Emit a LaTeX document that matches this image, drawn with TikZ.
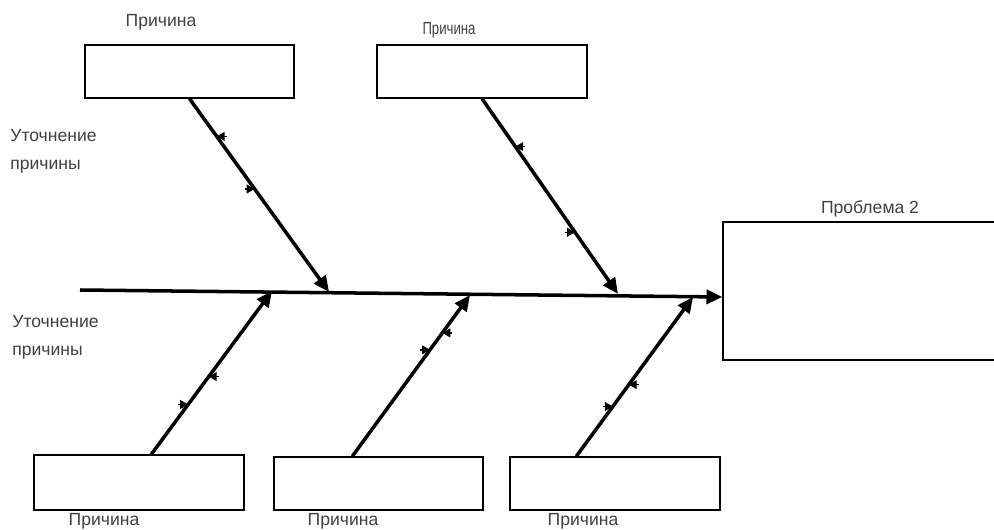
\documentclass[tikz,border=0pt]{standalone}
\usepackage{fontspec}
\setmainfont{Liberation Sans}
\usetikzlibrary{arrows.meta,calc}

\begin{document}
\begin{tikzpicture}
  [x=0.02cm,y=-0.02cm,
   box/.style={draw,line width=0.8pt,inner sep=0pt},
   lbl/.style={text=black!75,font=\fontsize{10}{16}\selectfont,inner sep=0pt},
   bone/.style={line width=2pt,-{Triangle[length=9pt,width=8pt]}},
   twig/.style={line width=0.8pt,-{Triangle[length=4.5pt,width=5pt]}}]
  \useasboundingbox (0,0) rectangle (994,530);

  % boxes
  \node[box,minimum width=4.18cm,minimum height=1.06cm] (c1) at (189.5,71.5) {};
  \node[box,minimum width=4.2cm,minimum height=1.06cm] (c2) at (482,71.5) {};
  \node[box,minimum width=4.2cm,minimum height=1.1cm] (c3) at (139,482.5) {};
  \node[box,minimum width=4.18cm,minimum height=1.06cm] (c4) at (378.5,483.5) {};
  \node[box,minimum width=4.2cm,minimum height=1.06cm] (c5) at (615,483.5) {};
  \node[box,minimum width=5.54cm,minimum height=2.76cm] (prob) at (861.5,291) {};

  % labels
  \node[lbl] (l1) at (161,22) {Причина};
  \node[lbl,xscale=.75] (l2) at (449,30) {Причина};
  \node[lbl] (l3) at (104,521) {Причина};
  \node[lbl] (l4) at (343,521) {Причина};
  \node[lbl] (l5) at (583,521) {Причина};
  \node[lbl] (lp) at (870,209) {Проблема 2};
  \node[lbl,anchor=west,align=left] (u1) at (10,151) {Уточнение\\причины};
  \node[lbl,anchor=west,align=left] (u2) at (12,337) {Уточнение\\причины};

  % spine
  \coordinate (tail) at (80,290);
  \coordinate (j1) at (329,292);
  \coordinate (j2) at (618,294);
  \coordinate (j3) at (272,291);
  \coordinate (j4) at (470,295);
  \coordinate (j5) at (693,297);
  \coordinate (s3) at ($(c3.north west)+(118,0)$);
  \coordinate (s4) at ($(c4.north west)+(79,0)$);
  \coordinate (s5) at ($(c5.north west)+(67,0)$);

  \draw[bone] (tail) -- ($(prob.west)+(0,6)$);

  % bones
  \draw[bone] (c1.south) -- (j1);
  \draw[bone] (c2.south) -- (j2);
  \draw[bone] (s3) -- (j3);
  \draw[bone] (s4) -- (j4);
  \draw[bone] (s5) -- (j5);

  % twigs
  \path (c1.south) -- (j1) coordinate[pos=.195] (t1) coordinate[pos=.467] (t2);
  \path (c2.south) -- (j2) coordinate[pos=.245] (t3) coordinate[pos=.684] (t4);
  \path (s3) -- (j3) coordinate[pos=.476] (t5) coordinate[pos=.305] (t6);
  \path (s4) -- (j4) coordinate[pos=.765] (t7) coordinate[pos=.66] (t8);
  \path (s5) -- (j5) coordinate[pos=.45] (t9) coordinate[pos=.3125] (t10);

  \draw[twig] ($(t1)+(10,0)$) -- (t1);
  \draw[twig] ($(t2)+(-10,0)$) -- (t2);
  \draw[twig] ($(t3)+(10,0)$) -- (t3);
  \draw[twig] ($(t4)+(-10,0)$) -- (t4);
  \draw[twig] ($(t5)+(10,0)$) -- (t5);
  \draw[twig] ($(t6)+(-10,0)$) -- (t6);
  \draw[twig] ($(t7)+(10,0)$) -- (t7);
  \draw[twig] ($(t8)+(-10,0)$) -- (t8);
  \draw[twig] ($(t9)+(10,0)$) -- (t9);
  \draw[twig] ($(t10)+(-10,0)$) -- (t10);
\end{tikzpicture}
\end{document}
